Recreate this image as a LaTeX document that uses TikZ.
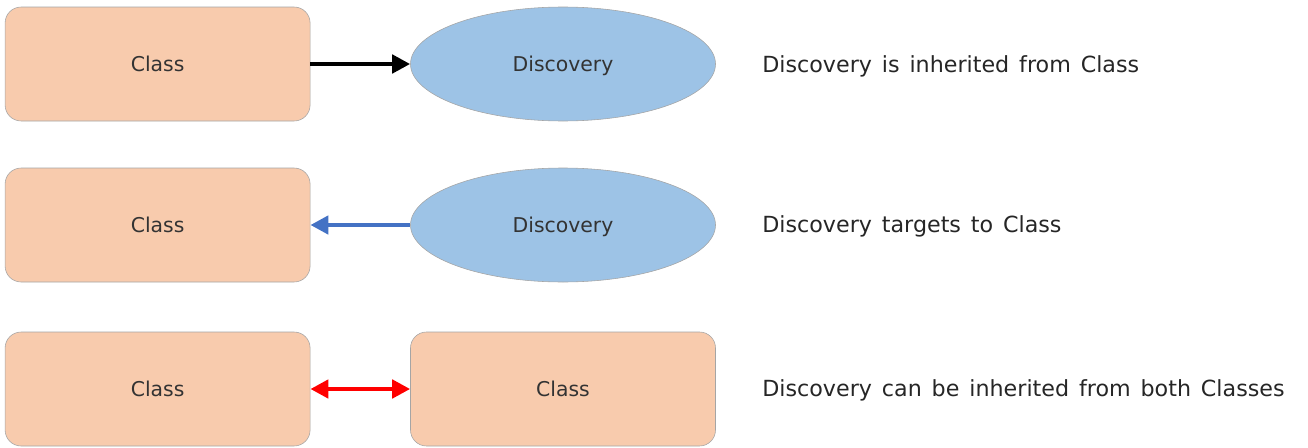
\documentclass[tikz,border=0pt]{standalone}
\usepackage{fontspec}
\setmainfont[WordSpace=1.4]{DejaVu Sans}
\usetikzlibrary{arrows.meta, shapes.geometric}
\definecolor{classPeach}{RGB}{248, 203, 173}
\definecolor{discoveryBlue}{RGB}{157, 195, 230}
\definecolor{edgeGray}{RGB}{165, 165, 165}
\definecolor{targetBlue}{RGB}{68, 114, 196}
\definecolor{bothRed}{RGB}{255, 0, 0}

\begin{document}
\begin{tikzpicture}
            % Styles
            \tikzstyle{classbox} = [rectangle, draw=edgeGray, fill=classPeach, text=black!80, minimum width=7.625cm, minimum height=2.85cm, rounded corners=0.4cm, font=\fontsize{14.5}{16}\selectfont]
            \tikzstyle{discovery} = [ellipse, draw=edgeGray, fill=discoveryBlue, text=black!80, minimum width=7.625cm, minimum height=2.85cm, inner sep=0pt, text height=0.5cm, font=\fontsize{14.5}{16}\selectfont]
            \tikzstyle{caption} = [anchor=west, inner sep=0pt, text=black!85, font=\fontsize{15.8}{18}\selectfont]
            \tikzstyle{link} = [line width=3.4pt, -{Triangle[length=0.45cm, width=0.45cm]}]
            \useasboundingbox (0, 0) rectangle (32.7, -11.2);

            % Inherited
            \node[classbox] (cls1) at (3.94, -1.6) {Class};
            \node[discovery] (disc1) at (14.075, -1.6) {Discovery};
            \draw[link, black] (cls1) -- (disc1);
            \node[caption] (txt1) at (19.05, -1.65) {Discovery is inherited from Class};

            % Targets
            \node[classbox] (cls2) at (3.94, -5.625) {Class};
            \node[discovery] (disc2) at (14.075, -5.625) {Discovery};
            \draw[link, targetBlue] (disc2) -- (cls2);
            \node[caption] (txt2) at (19.05, -5.65) {Discovery targets to Class};

            % Both
            \node[classbox] (cls3) at (3.94, -9.725) {Class};
            \node[classbox] (cls4) at (14.075, -9.725) {Class};
            \draw[link, bothRed, {Triangle[length=0.45cm, width=0.45cm]}-{Triangle[length=0.45cm, width=0.45cm]}] (cls3) -- (cls4);
            \node[caption] (txt3) at (19.05, -9.75) {Discovery can be inherited from both Classes};
        \end{tikzpicture}
\end{document}
